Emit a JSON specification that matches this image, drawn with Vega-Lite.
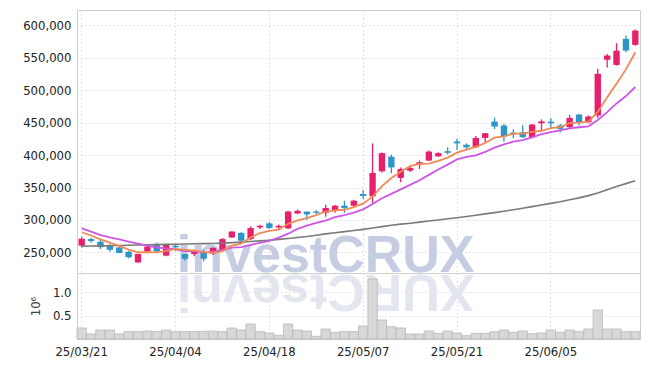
{
  "$schema": "https://vega.github.io/schema/vega-lite/v6.json",
  "background": "white",
  "padding": {"left": 22, "top": 9, "right": 8, "bottom": 5},
  "spacing": 0,
  "bounds": "flush",
  "config": {
    "font": "DejaVu Sans Condensed",
    "view": {"stroke": "#cfcfcf", "strokeWidth": 1},
    "axis": {"gridColor": "#c6c6d2", "gridDash": [1, 3], "gridWidth": 1, "ticks": false, "domain": false, "labelColor": "#222222", "labelFontSize": 13, "labelPadding": 6, "labelOverlap": false, "labelSeparation": 0}
  },
  "datasets": {
    "d": [
      {"date": "25/03/21", "open": 260300, "high": 274000, "low": 257700, "close": 271000, "volume": 0.236, "ma5": 281000, "ma10": 287000, "ma60": 259500},
      {"date": "25/03/24", "open": 270500, "high": 272500, "low": 265000, "close": 267500, "volume": 0.107, "ma5": 276000, "ma10": 282000, "ma60": 259800},
      {"date": "25/03/25", "open": 266500, "high": 269000, "low": 255000, "close": 258000, "volume": 0.193, "ma5": 270000, "ma10": 276500, "ma60": 260000},
      {"date": "25/03/26", "open": 261000, "high": 263000, "low": 251000, "close": 254000, "volume": 0.193, "ma5": 265000, "ma10": 273000, "ma60": 260300},
      {"date": "25/03/27", "open": 257500, "high": 258500, "low": 248500, "close": 249000, "volume": 0.107, "ma5": 259900, "ma10": 270000, "ma60": 260600},
      {"date": "25/03/28", "open": 251000, "high": 252000, "low": 241000, "close": 242500, "volume": 0.157, "ma5": 254200, "ma10": 266500, "ma60": 261000},
      {"date": "25/03/31", "open": 234500, "high": 248000, "low": 234000, "close": 247500, "volume": 0.157, "ma5": 250200, "ma10": 263500, "ma60": 261300},
      {"date": "25/04/01", "open": 251500, "high": 260000, "low": 250000, "close": 259000, "volume": 0.171, "ma5": 250400, "ma10": 260500, "ma60": 261600},
      {"date": "25/04/02", "open": 263000, "high": 265000, "low": 249000, "close": 251500, "volume": 0.157, "ma5": 249900, "ma10": 257500, "ma60": 262000},
      {"date": "25/04/03", "open": 245000, "high": 262000, "low": 244000, "close": 261500, "volume": 0.193, "ma5": 252400, "ma10": 256200, "ma60": 262300},
      {"date": "25/04/04", "open": 260300, "high": 263000, "low": 252000, "close": 257700, "volume": 0.157, "ma5": 255400, "ma10": 254800, "ma60": 262600},
      {"date": "25/04/07", "open": 247500, "high": 248000, "low": 237000, "close": 240000, "volume": 0.157, "ma5": 253900, "ma10": 252100, "ma60": 262900},
      {"date": "25/04/08", "open": 247500, "high": 254000, "low": 244000, "close": 252500, "volume": 0.157, "ma5": 252600, "ma10": 251500, "ma60": 263200},
      {"date": "25/04/09", "open": 250000, "high": 254000, "low": 236000, "close": 240000, "volume": 0.164, "ma5": 250300, "ma10": 250100, "ma60": 263500},
      {"date": "25/04/10", "open": 248500, "high": 258000, "low": 246000, "close": 257000, "volume": 0.171, "ma5": 249400, "ma10": 250900, "ma60": 263800},
      {"date": "25/04/11", "open": 252500, "high": 272000, "low": 252000, "close": 270500, "volume": 0.157, "ma5": 252000, "ma10": 253700, "ma60": 264300},
      {"date": "25/04/14", "open": 273000, "high": 283000, "low": 272000, "close": 282000, "volume": 0.236, "ma5": 260400, "ma10": 257200, "ma60": 265000},
      {"date": "25/04/15", "open": 280000, "high": 281000, "low": 265000, "close": 268000, "volume": 0.193, "ma5": 263500, "ma10": 258100, "ma60": 265800},
      {"date": "25/04/16", "open": 270700, "high": 290000, "low": 269000, "close": 287500, "volume": 0.322, "ma5": 273000, "ma10": 261700, "ma60": 266700},
      {"date": "25/04/17", "open": 288500, "high": 292500, "low": 286000, "close": 291000, "volume": 0.157, "ma5": 279800, "ma10": 264600, "ma60": 267700},
      {"date": "25/04/18", "open": 294700, "high": 297000, "low": 286000, "close": 287600, "volume": 0.129, "ma5": 283200, "ma10": 267600, "ma60": 268800},
      {"date": "25/04/21", "open": 288600, "high": 293000, "low": 285000, "close": 291000, "volume": 0.079, "ma5": 285000, "ma10": 272700, "ma60": 270000},
      {"date": "25/04/22", "open": 287000, "high": 314000, "low": 286000, "close": 313000, "volume": 0.322, "ma5": 294000, "ma10": 278800, "ma60": 271500},
      {"date": "25/04/23", "open": 310000, "high": 316000, "low": 309000, "close": 314000, "volume": 0.193, "ma5": 299300, "ma10": 286200, "ma60": 273000},
      {"date": "25/04/24", "open": 312800, "high": 313000, "low": 300000, "close": 308600, "volume": 0.171, "ma5": 302800, "ma10": 291300, "ma60": 274500},
      {"date": "25/04/25", "open": 313000, "high": 315000, "low": 309000, "close": 311000, "volume": 0.057, "ma5": 307500, "ma10": 295400, "ma60": 276500},
      {"date": "25/04/28", "open": 311000, "high": 323500, "low": 305000, "close": 318500, "volume": 0.214, "ma5": 313000, "ma10": 299000, "ma60": 278500},
      {"date": "25/04/29", "open": 314000, "high": 323000, "low": 311000, "close": 322000, "volume": 0.143, "ma5": 314800, "ma10": 304400, "ma60": 280300},
      {"date": "25/04/30", "open": 322000, "high": 329700, "low": 311000, "close": 318500, "volume": 0.157, "ma5": 315700, "ma10": 307500, "ma60": 282000},
      {"date": "25/05/02", "open": 322000, "high": 331000, "low": 318500, "close": 329700, "volume": 0.157, "ma5": 319900, "ma10": 311400, "ma60": 283800},
      {"date": "25/05/07", "open": 340000, "high": 346000, "low": 332000, "close": 337000, "volume": 0.279, "ma5": 325100, "ma10": 316300, "ma60": 285500},
      {"date": "25/05/08", "open": 336400, "high": 418000, "low": 325000, "close": 372500, "volume": 1.287, "ma5": 335900, "ma10": 324500, "ma60": 287500},
      {"date": "25/05/09", "open": 375000, "high": 404000, "low": 373000, "close": 403000, "volume": 0.408, "ma5": 352100, "ma10": 333500, "ma60": 289700},
      {"date": "25/05/12", "open": 397500, "high": 400500, "low": 372000, "close": 381000, "volume": 0.264, "ma5": 364600, "ma10": 340200, "ma60": 291800},
      {"date": "25/05/13", "open": 364800, "high": 381000, "low": 358000, "close": 378600, "volume": 0.236, "ma5": 374400, "ma10": 347200, "ma60": 293500},
      {"date": "25/05/14", "open": 376000, "high": 383000, "low": 374000, "close": 380000, "volume": 0.107, "ma5": 383000, "ma10": 354100, "ma60": 295000},
      {"date": "25/05/15", "open": 385300, "high": 391500, "low": 378600, "close": 389000, "volume": 0.107, "ma5": 386300, "ma10": 361100, "ma60": 296700},
      {"date": "25/05/16", "open": 391500, "high": 407000, "low": 391000, "close": 405400, "volume": 0.171, "ma5": 386800, "ma10": 369500, "ma60": 298300},
      {"date": "25/05/19", "open": 398000, "high": 404500, "low": 397500, "close": 403000, "volume": 0.121, "ma5": 391200, "ma10": 377900, "ma60": 300000},
      {"date": "25/05/20", "open": 406000, "high": 412000, "low": 400700, "close": 403500, "volume": 0.171, "ma5": 396200, "ma10": 385300, "ma60": 301800},
      {"date": "25/05/21", "open": 421000, "high": 425000, "low": 408000, "close": 418000, "volume": 0.129, "ma5": 403800, "ma10": 393400, "ma60": 303500},
      {"date": "25/05/22", "open": 416000, "high": 418000, "low": 408700, "close": 412000, "volume": 0.071, "ma5": 408400, "ma10": 397400, "ma60": 305300},
      {"date": "25/05/23", "open": 412000, "high": 429600, "low": 411000, "close": 426500, "volume": 0.121, "ma5": 412600, "ma10": 399700, "ma60": 307300},
      {"date": "25/05/26", "open": 426500, "high": 434000, "low": 419000, "close": 433700, "volume": 0.121, "ma5": 418700, "ma10": 405000, "ma60": 309300},
      {"date": "25/05/27", "open": 451700, "high": 458000, "low": 440000, "close": 444000, "volume": 0.157, "ma5": 426800, "ma10": 411500, "ma60": 311300},
      {"date": "25/05/28", "open": 445500, "high": 448000, "low": 421000, "close": 429000, "volume": 0.193, "ma5": 429000, "ma10": 416400, "ma60": 313500},
      {"date": "25/05/29", "open": 434700, "high": 440000, "low": 426500, "close": 432000, "volume": 0.143, "ma5": 433000, "ma10": 420700, "ma60": 315800},
      {"date": "25/05/30", "open": 435000, "high": 446000, "low": 426500, "close": 427500, "volume": 0.171, "ma5": 433200, "ma10": 422900, "ma60": 318000},
      {"date": "25/06/02", "open": 427500, "high": 448000, "low": 426500, "close": 447000, "volume": 0.114, "ma5": 435900, "ma10": 427300, "ma60": 320500},
      {"date": "25/06/04", "open": 449000, "high": 455000, "low": 436400, "close": 452000, "volume": 0.129, "ma5": 437500, "ma10": 432200, "ma60": 323000},
      {"date": "25/06/05", "open": 451700, "high": 456700, "low": 440000, "close": 449000, "volume": 0.193, "ma5": 441500, "ma10": 435300, "ma60": 325500},
      {"date": "25/06/09", "open": 445500, "high": 448000, "low": 435000, "close": 440400, "volume": 0.143, "ma5": 443200, "ma10": 438100, "ma60": 328000},
      {"date": "25/06/10", "open": 443000, "high": 462000, "low": 440000, "close": 457400, "volume": 0.193, "ma5": 449200, "ma10": 441200, "ma60": 331000},
      {"date": "25/06/11", "open": 462500, "high": 463000, "low": 445500, "close": 450600, "volume": 0.157, "ma5": 449900, "ma10": 442900, "ma60": 334000},
      {"date": "25/06/12", "open": 450600, "high": 461000, "low": 449000, "close": 459400, "volume": 0.214, "ma5": 451400, "ma10": 444400, "ma60": 337500},
      {"date": "25/06/13", "open": 461000, "high": 533000, "low": 457000, "close": 525300, "volume": 0.622, "ma5": 466600, "ma10": 454100, "ma60": 341500},
      {"date": "25/06/16", "open": 547000, "high": 556000, "low": 535000, "close": 553500, "volume": 0.214, "ma5": 489200, "ma10": 466200, "ma60": 346500},
      {"date": "25/06/17", "open": 539000, "high": 572500, "low": 538000, "close": 561000, "volume": 0.214, "ma5": 510000, "ma10": 479600, "ma60": 351500},
      {"date": "25/06/18", "open": 579300, "high": 584400, "low": 558600, "close": 561200, "volume": 0.157, "ma5": 532100, "ma10": 491000, "ma60": 356000},
      {"date": "25/06/19", "open": 570000, "high": 593500, "low": 568600, "close": 592000, "volume": 0.157, "ma5": 558600, "ma10": 505000, "ma60": 360500}
    ]
  },
  "vconcat": [
    {
      "width": 563,
      "height": 263,
      "encoding": {
        "x": {"field": "date", "type": "ordinal", "scale": {"paddingInner": 0, "paddingOuter": 0}, "axis": {"labels": false, "title": null, "grid": true, "bandPosition": 0.5, "values": ["25/03/21", "25/04/04", "25/04/18", "25/05/07", "25/05/21", "25/06/05"]}}
      },
      "layer": [
        {
          "data": {"values": [{"label": "investCRUX", "date": "25/04/28", "pos": 219500}]},
          "mark": {"type": "text", "font": "Liberation Sans", "fontWeight": "bold", "fontSize": 52, "color": "#c6cde3", "align": "center", "baseline": "alphabetic"},
          "encoding": {
            "y": {"field": "pos", "type": "quantitative", "axis": {"title": null, "format": ",d", "labelOverlap": false, "tickCount": 8}},
            "text": {"field": "label"}
          }
        },
        {
          "data": {"name": "d"},
          "mark": {"type": "rule", "strokeWidth": 1.3},
          "encoding": {
            "y": {"field": "low", "type": "quantitative", "scale": {"domain": [218200, 623700], "nice": false, "zero": false}, "axis": {"title": null, "format": ",d", "labelOverlap": false, "tickCount": 8}},
            "y2": {"field": "high"},
            "color": {"condition": {"test": "datum.close >= datum.open", "value": "#e6206c"}, "value": "#2e95c8"}
          }
        },
        {
          "data": {"name": "d"},
          "mark": {"type": "bar", "width": {"band": 0.68}},
          "encoding": {
            "y": {"field": "open", "type": "quantitative"},
            "y2": {"field": "close"},
            "color": {"condition": {"test": "datum.close >= datum.open", "value": "#e6206c"}, "value": "#2e95c8"}
          }
        },
        {
          "data": {"name": "d"},
          "mark": {"type": "line", "color": "#7a7a7a", "strokeWidth": 1.6},
          "encoding": {"y": {"field": "ma60", "type": "quantitative"}}
        },
        {
          "data": {"name": "d"},
          "mark": {"type": "line", "color": "#cf55e6", "strokeWidth": 1.8},
          "encoding": {"y": {"field": "ma10", "type": "quantitative"}}
        },
        {
          "data": {"name": "d"},
          "mark": {"type": "line", "color": "#ef8a55", "strokeWidth": 1.8},
          "encoding": {"y": {"field": "ma5", "type": "quantitative"}}
        }
      ]
    },
    {
      "width": 563,
      "height": 66,
      "encoding": {
        "x": {"field": "date", "type": "ordinal", "scale": {"paddingInner": 0, "paddingOuter": 0}, "axis": {"title": null, "labelAngle": 0, "grid": true, "bandPosition": 0.5, "labelPadding": 6, "values": ["25/03/21", "25/04/04", "25/04/18", "25/05/07", "25/05/21", "25/06/05"]}}
      },
      "layer": [
        {
          "data": {"values": [{"label": "XURCtsevni", "date": "25/04/28", "pos": 1.38}]},
          "mark": {"type": "text", "font": "Liberation Sans", "fontWeight": "bold", "fontSize": 52, "color": "#e3e6ef", "align": "center", "baseline": "alphabetic", "angle": 180},
          "encoding": {
            "y": {"field": "pos", "type": "quantitative"},
            "text": {"field": "label"}
          }
        },
        {
          "data": {"name": "d"},
          "mark": {"type": "bar", "width": {"band": 1}, "fill": "#d8d8d8", "stroke": "#b9b9b9", "strokeWidth": 0.8},
          "encoding": {
            "y": {"field": "volume", "type": "quantitative", "scale": {"domain": [0, 1.416], "nice": false}, "axis": {"title": "10⁶", "titleFontWeight": "normal", "titleFontSize": 13, "titleColor": "#444444", "titlePadding": 10, "format": ".1f", "labelOverlap": false, "values": [0.5, 1.0]}}
          }
        }
      ]
    }
  ]
}
